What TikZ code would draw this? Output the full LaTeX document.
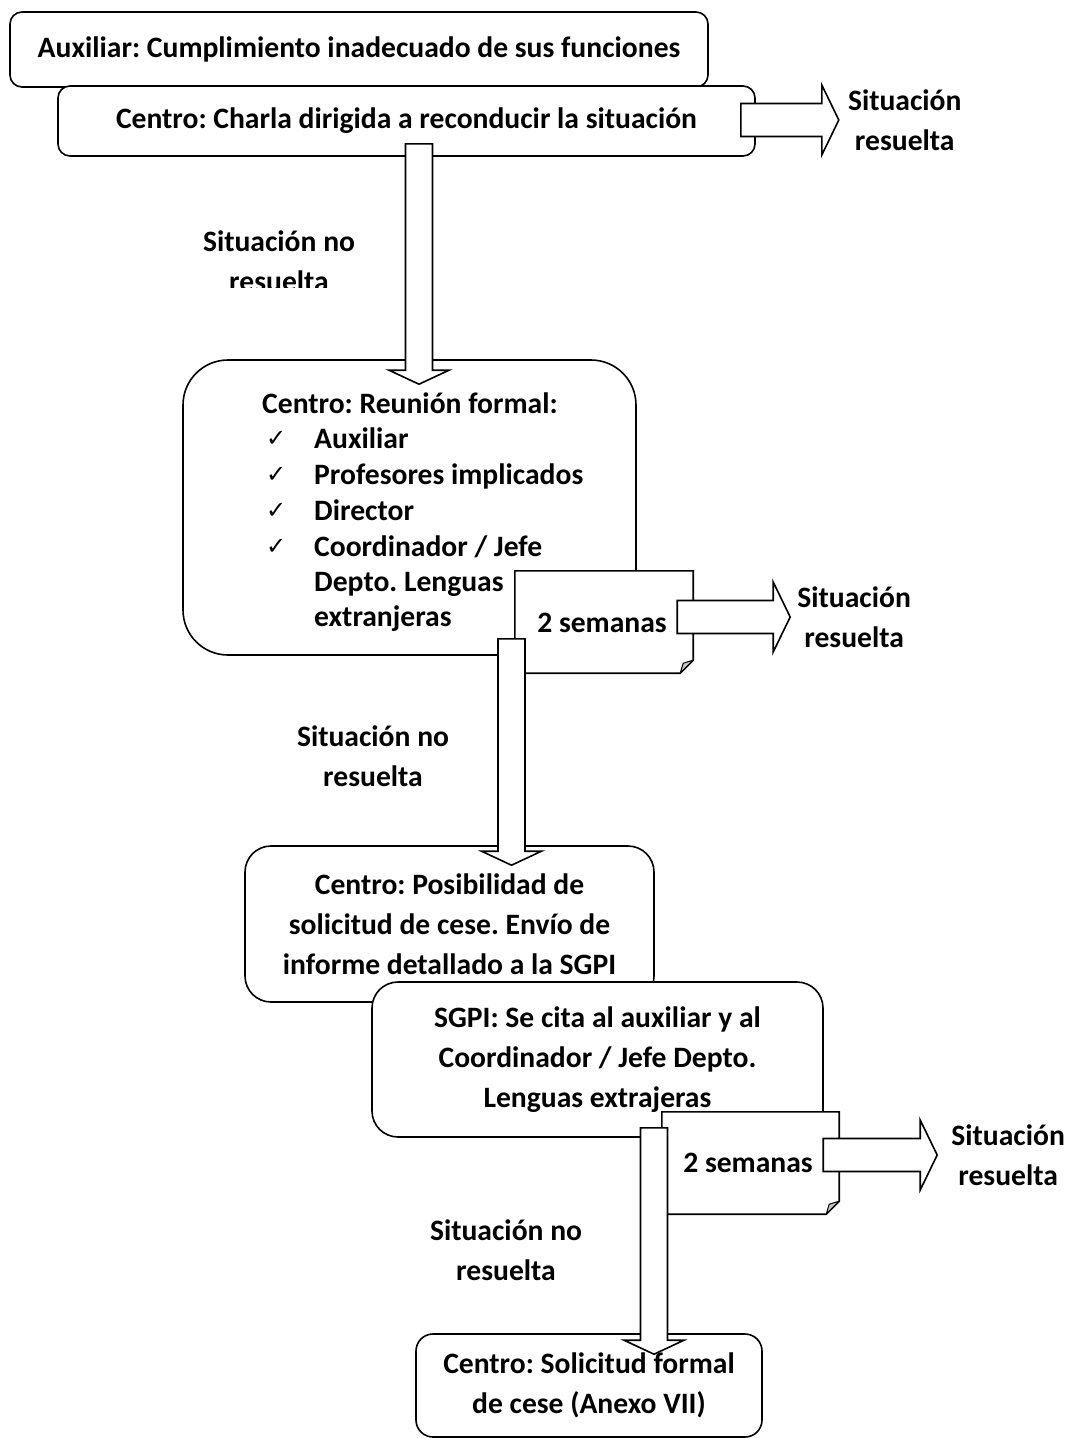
\documentclass[tikz,border=0pt]{standalone}
\usepackage{fontspec}
\setmainfont{Carlito}
\newfontfamily\checkfont{DejaVu Sans}
\usetikzlibrary{positioning,calc}
\frenchspacing

\tikzset{
  box/.style={draw=black,line width=1.6pt,fill=white,inner sep=0pt,align=center},
  lbl/.style={inner sep=0pt,align=center},
  chk/.style={inner sep=0pt,font=\checkfont\fontsize{24}{26}\selectfont},
  blkdown/.style={draw=black,line width=1.6pt,fill=white,
    to path={let \p1=(\tikztostart), \p2=(\tikztotarget) in
      (\x1-13.5pt,\y1) -- (\x1+13.5pt,\y1) -- (\x1+13.5pt,\y2+14pt) -- (\x1+30pt,\y2+14pt)
      -- (\x1,\y2) -- (\x1-30pt,\y2+14pt) -- (\x1-13.5pt,\y2+14pt) -- cycle}},
  blkright/.style={draw=black,line width=1.6pt,fill=white,
    to path={let \p1=(\tikztostart), \p2=(\tikztotarget) in
      (\x1,\y1+16.5pt) -- (\x2-17pt,\y1+16.5pt) -- (\x2-17pt,\y1+35pt) -- (\x2,\y1)
      -- (\x2-17pt,\y1-35pt) -- (\x2-17pt,\y1-16.5pt) -- (\x1,\y1-16.5pt) -- cycle}}
}

% note with folded corner
\newcommand{\dogear}[1]{%
  \draw[line width=1.6pt,fill=white] (#1.north west) -- (#1.north east) -- ([yshift=13pt]#1.south east)
    -- ([xshift=-13pt]#1.south east) -- (#1.south west) -- cycle;
  \draw[line width=1pt,fill=gray!45,line join=round] ([yshift=13pt]#1.south east)
    -- ([xshift=-13pt]#1.south east) -- ([xshift=-10pt,yshift=10pt]#1.south east) -- cycle;}

\begin{document}
\begin{tikzpicture}[x=1pt,y=-1pt,every node/.style={font=\bfseries\fontsize{29.6}{40}\selectfont}]
\useasboundingbox (0,0) rectangle (1067,1438);

\node[box,rounded corners=12pt,minimum width=698pt,minimum height=75pt] (aux) at (359,49.5) {Auxiliar: Cumplimiento inadecuado de sus funciones};
\node[box,rounded corners=12pt,minimum width=697pt,minimum height=70pt] (charla) at (406.5,121) {Centro: Charla dirigida a reconducir la situación};

% reunion formal
\node[box,rounded corners=45pt,minimum width=453pt,minimum height=295pt] (reunion) at (409.5,507.5) {};
\node[lbl,anchor=base west] (r0) at (262,413) {Centro: Reunión formal:};
\node[lbl,anchor=base west] (r1) at (314,448) {Auxiliar};
\node[lbl,anchor=base west] (r2) at (314,484) {Profesores implicados};
\node[lbl,anchor=base west] (r3) at (314,520) {Director};
\node[lbl,anchor=base west] (r4) at (314,556) {Coordinador / Jefe};
\node[lbl,anchor=base west] (r5) at (314,591) {Depto. Lenguas};
\node[lbl,anchor=base west] (r6) at (314,626) {extranjeras};
\node[chk,anchor=base west] (c1) at (266,446) {✓};
\node[chk,anchor=base west] (c2) at (266,482) {✓};
\node[chk,anchor=base west] (c3) at (266,518) {✓};
\node[chk,anchor=base west] (c4) at (266,554) {✓};

\draw[blkdown] ([xshift=12.5pt,yshift=13pt]charla.south) to ([yshift=-25pt]reunion.north);
\coordinate (t1) at ([xshift=83pt,yshift=1pt]charla.east);
\draw[blkright] ([xshift=-15pt,yshift=1pt]charla.east) to (t1);
\node[lbl,right=9pt of t1] (res1) {Situación\\resuelta};

\begin{scope}
  \clip (150,195) rectangle (420,287);
  \node[lbl] (nores1) at (279,261) {Situación no\\resuelta};
\end{scope}

% primer plazo
\node[inner sep=0pt,minimum width=178pt,minimum height=102pt] (note1) at (604,622) {};
\dogear{note1}
\node[lbl] (sem1) at (602,623) {2 semanas};
\coordinate (t2) at ([xshift=97pt,yshift=5pt]note1.east);
\draw[blkright] ([xshift=-16pt,yshift=5pt]note1.east) to (t2);
\node[lbl,right=7pt of t2] (res2) {Situación\\resuelta};

\node[box,rounded corners=26pt,minimum width=409pt,minimum height=156pt] (posib) at (449.5,924) {Centro: Posibilidad de\\solicitud de cese. Envío de\\informe detallado a la SGPI};
\draw[blkdown] ([xshift=102pt,yshift=17pt]reunion.south) to ([yshift=-20pt]posib.north);
\node[lbl] (nores2) at (373,756) {Situación no\\resuelta};

\node[box,rounded corners=26pt,minimum width=451pt,minimum height=155pt] (sgpi) at (597.5,1059.5) {SGPI: Se cita al auxiliar y al\\Coordinador / Jefe Depto.\\Lenguas extrajeras};

% segundo plazo
\node[inner sep=0pt,minimum width=177pt,minimum height=102pt] (note2) at (750.5,1163) {};
\dogear{note2}
\node[lbl] (sem2) at (748,1163) {2 semanas};
\coordinate (t3) at ([xshift=98pt,yshift=8pt]note2.east);
\draw[blkright] ([xshift=-16pt,yshift=8pt]note2.east) to (t3);
\node[lbl,right=14pt of t3] (res3) {Situación\\resuelta};

\node[box,rounded corners=17pt,minimum width=346pt,minimum height=103pt] (final) at (589,1385.5) {Centro: Solicitud formal\\de cese (Anexo VII)};
\draw[blkdown] ([xshift=56.5pt,yshift=10pt]sgpi.south) to ([yshift=-21pt]final.north);
\node[lbl] (nores3) at (506,1250) {Situación no\\resuelta};

\end{tikzpicture}
\end{document}
